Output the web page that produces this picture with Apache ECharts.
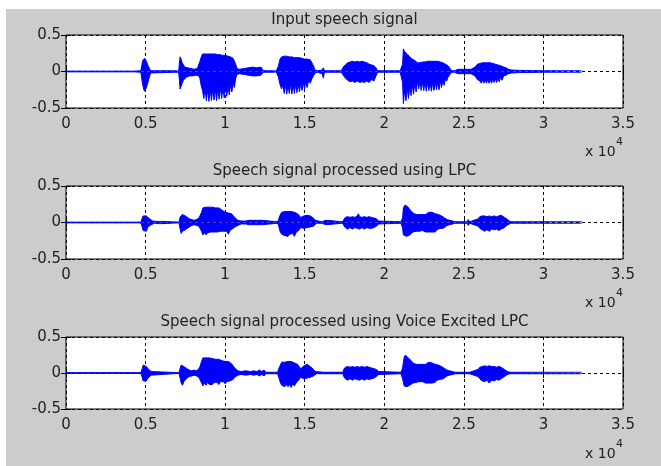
<!DOCTYPE html>
<html>
<head>
<meta charset="utf-8">
<script src="https://cdn.jsdelivr.net/npm/echarts@6/dist/echarts.min.js"></script>
<style>
html,body{margin:0;padding:0;background:#ffffff;}
#c{position:absolute;left:6px;top:9px;width:655px;height:457px;}
</style>
</head>
<body>
<div id="c"></div>
<script>
// ---- data (x in samples, envelope [sample, upper, lower]) ----
const titles = ['Input speech signal', 'Speech signal processed using LPC', 'Speech signal processed using Voice Excited LPC'];
const xTickLabels = ['0', '0.5', '1', '1.5', '2', '2.5', '3', '3.5'];
const xTickStep = 5000;
const yTicks = [-0.5, 0, 0.5];
const xExponent = '4';

const inputEnv = [
[0,0.005,-0.005],[4100,0.005,-0.005],[4180,0.03,-0.025],[4260,0.005,-0.005],[4700,0.01,-0.01],
[4760,0.08,-0.10],[4820,0.15,-0.18],[4880,0.17,-0.24],[4940,0.18,-0.27],[5000,0.16,-0.26],[5060,0.14,-0.22],[5120,0.10,-0.20],[5180,0.07,-0.12],[5250,0.04,-0.07],[5320,0.01,-0.02],
[5400,0.005,-0.005],[6900,0.01,-0.01],[7000,0.03,-0.03],[7080,0.005,-0.01],
[7120,0.10,-0.10],[7170,0.20,-0.24],[7230,0.17,-0.22],[7300,0.12,-0.16],[7380,0.09,-0.12],[7460,0.06,-0.10],[7550,0.08,-0.08],[7650,0.05,-0.07],[7750,0.07,-0.06],[7850,0.04,-0.05],[7950,0.05,-0.06],[8050,0.03,-0.04],[8150,0.05,-0.05],[8250,0.04,-0.04],[8350,0.06,-0.06],
[8420,0.14,-0.10],[8500,0.20,-0.20],[8580,0.24,-0.26],[8660,0.23,-0.37],[8740,0.24,-0.24],[8820,0.25,-0.40],[8900,0.24,-0.25],[8980,0.23,-0.41],[9060,0.24,-0.24],[9140,0.25,-0.40],[9220,0.24,-0.24],[9300,0.23,-0.39],[9380,0.24,-0.23],[9460,0.25,-0.40],[9540,0.23,-0.23],[9620,0.24,-0.38],[9700,0.23,-0.22],[9780,0.24,-0.37],[9860,0.22,-0.22],[9940,0.23,-0.36],[10020,0.22,-0.21],[10100,0.21,-0.34],[10180,0.21,-0.20],[10260,0.20,-0.32],[10340,0.20,-0.18],[10420,0.21,-0.28],[10500,0.18,-0.16],[10580,0.16,-0.22],[10660,0.10,-0.10],[10740,0.04,-0.04],
[10900,0.03,-0.03],[11200,0.04,-0.04],[11450,0.05,-0.05],[11700,0.06,-0.06],[12000,0.05,-0.06],[12250,0.06,-0.05],[12400,0.01,-0.01],[13000,0.01,-0.01],[13100,0.02,-0.02],[13200,0.005,-0.005],
[13340,0.07,-0.07],[13450,0.17,-0.18],[13550,0.20,-0.24],[13630,0.21,-0.18],[13710,0.21,-0.30],[13790,0.20,-0.18],[13870,0.21,-0.31],[13950,0.20,-0.18],[14030,0.20,-0.30],[14110,0.19,-0.17],[14190,0.20,-0.31],[14270,0.19,-0.17],[14350,0.19,-0.30],[14430,0.19,-0.17],[14510,0.19,-0.29],[14590,0.18,-0.16],[14670,0.19,-0.28],[14750,0.18,-0.16],[14830,0.18,-0.26],[14910,0.17,-0.15],[14990,0.17,-0.24],[15070,0.16,-0.13],[15150,0.17,-0.22],[15250,0.15,-0.12],[15350,0.16,-0.16],[15450,0.14,-0.10],[15550,0.08,-0.06],[15650,0.02,-0.02],
[15800,0.01,-0.01],[16100,0.02,-0.03],[16170,0.05,-0.09],[16240,0.01,-0.01],[17300,0.01,-0.01],
[17420,0.06,-0.05],[17550,0.09,-0.09],[17700,0.12,-0.12],[17850,0.13,-0.14],[18000,0.14,-0.13],[18150,0.13,-0.15],[18300,0.14,-0.13],[18450,0.13,-0.15],[18600,0.14,-0.14],[18750,0.13,-0.15],[18900,0.12,-0.13],[19050,0.10,-0.15],[19200,0.09,-0.11],[19350,0.08,-0.13],[19480,0.05,-0.06],[19580,0.01,-0.01],
[21000,0.01,-0.01],
[21150,0.10,-0.15],[21200,0.31,-0.44],[21280,0.27,-0.25],[21360,0.28,-0.40],[21440,0.24,-0.22],[21520,0.24,-0.37],[21600,0.20,-0.20],[21680,0.21,-0.33],[21760,0.17,-0.18],[21840,0.18,-0.31],[21920,0.15,-0.15],[22000,0.14,-0.28],[22080,0.12,-0.13],[22160,0.13,-0.24],[22240,0.12,-0.13],[22320,0.13,-0.26],[22400,0.13,-0.14],[22480,0.14,-0.26],[22560,0.13,-0.14],[22640,0.14,-0.27],[22720,0.14,-0.15],[22800,0.14,-0.26],[22880,0.14,-0.15],[22960,0.15,-0.27],[23040,0.14,-0.15],[23120,0.15,-0.26],[23200,0.14,-0.14],[23280,0.14,-0.25],[23360,0.14,-0.14],[23440,0.14,-0.25],[23520,0.13,-0.13],[23600,0.12,-0.22],[23680,0.12,-0.12],[23760,0.11,-0.19],[23840,0.10,-0.10],[23920,0.09,-0.13],[24000,0.08,-0.08],[24100,0.05,-0.06],[24230,0.01,-0.01],
[24400,0.01,-0.01],[24650,0.03,-0.03],[25000,0.03,-0.03],[25450,0.03,-0.03],[25550,0.01,-0.01],
[25700,0.06,-0.06],[25850,0.10,-0.11],[26000,0.11,-0.13],[26100,0.12,-0.16],[26180,0.12,-0.11],[26260,0.12,-0.16],[26340,0.12,-0.11],[26420,0.12,-0.16],[26500,0.12,-0.11],[26580,0.12,-0.16],[26660,0.12,-0.11],[26740,0.11,-0.16],[26820,0.11,-0.10],[26900,0.11,-0.15],[26980,0.10,-0.10],[27060,0.10,-0.15],[27140,0.09,-0.09],[27220,0.09,-0.14],[27300,0.08,-0.08],[27400,0.07,-0.12],[27500,0.06,-0.06],[27650,0.05,-0.05],[27800,0.03,-0.03],[28000,0.02,-0.02],
[28500,0.015,-0.015],[30000,0.01,-0.01],[32400,0.01,-0.01]
];

const lpcEnv = [
[0,0.005,-0.005],[4700,0.005,-0.005],
[4790,0.06,-0.06],[4850,0.09,-0.11],[4950,0.10,-0.10],[5050,0.09,-0.12],[5150,0.07,-0.06],[5250,0.05,-0.07],[5350,0.03,-0.03],[5450,0.02,-0.02],[5550,0.01,-0.01],[5700,0.015,-0.015],[6100,0.015,-0.015],[6200,0.005,-0.005],
[7100,0.005,-0.005],
[7180,0.08,-0.10],[7240,0.10,-0.15],[7320,0.11,-0.12],[7400,0.10,-0.14],[7500,0.09,-0.10],[7600,0.07,-0.08],[7750,0.05,-0.06],[7900,0.04,-0.04],[8050,0.03,-0.03],[8200,0.04,-0.04],[8350,0.06,-0.05],
[8420,0.08,-0.07],[8520,0.14,-0.12],[8600,0.20,-0.17],[8700,0.19,-0.14],[8800,0.21,-0.17],[8900,0.20,-0.14],[9000,0.21,-0.16],[9100,0.20,-0.13],[9200,0.21,-0.15],[9300,0.19,-0.13],[9400,0.20,-0.15],[9500,0.19,-0.13],[9600,0.20,-0.14],[9700,0.19,-0.12],[9800,0.17,-0.14],[9900,0.15,-0.12],[10000,0.14,-0.13],[10100,0.14,-0.12],[10200,0.13,-0.16],[10300,0.14,-0.11],[10400,0.12,-0.12],[10500,0.10,-0.08],[10600,0.07,-0.07],[10700,0.05,-0.05],[10800,0.03,-0.03],
[11000,0.02,-0.02],[11300,0.02,-0.02],[11500,0.03,-0.03],[12000,0.03,-0.03],[12300,0.03,-0.03],[12400,0.01,-0.01],[13300,0.01,-0.01],
[13350,0.04,-0.04],[13450,0.10,-0.12],[13550,0.14,-0.16],[13650,0.15,-0.15],[13750,0.15,-0.18],[13850,0.16,-0.16],[13950,0.15,-0.19],[14050,0.15,-0.16],[14150,0.15,-0.18],[14250,0.14,-0.15],[14350,0.14,-0.19],[14450,0.13,-0.14],[14550,0.12,-0.15],[14650,0.10,-0.10],[14750,0.07,-0.07],[14850,0.06,-0.06],[14950,0.09,-0.08],[15050,0.11,-0.09],[15150,0.10,-0.07],[15250,0.11,-0.08],[15350,0.09,-0.06],[15450,0.08,-0.07],[15550,0.06,-0.05],[15650,0.03,-0.03],[15750,0.01,-0.01],
[16050,0.01,-0.01],[16150,0.03,-0.03],[16350,0.03,-0.03],[16450,0.01,-0.01],[17400,0.01,-0.01],
[17450,0.04,-0.04],[17550,0.07,-0.07],[17700,0.08,-0.09],[17850,0.07,-0.07],[18000,0.08,-0.09],[18150,0.07,-0.07],[18300,0.09,-0.08],[18370,0.12,-0.07],[18450,0.08,-0.09],[18600,0.07,-0.07],[18750,0.08,-0.09],[18900,0.07,-0.07],[19050,0.08,-0.08],[19200,0.07,-0.08],[19350,0.06,-0.07],[19500,0.05,-0.05],[19650,0.02,-0.02],[19750,0.01,-0.01],
[21050,0.01,-0.01],
[21150,0.06,-0.08],[21200,0.20,-0.17],[21300,0.24,-0.19],[21400,0.23,-0.19],[21500,0.21,-0.18],[21600,0.18,-0.17],[21700,0.17,-0.15],[21800,0.13,-0.13],[21900,0.12,-0.14],[22000,0.11,-0.12],[22100,0.12,-0.13],[22200,0.11,-0.12],[22300,0.12,-0.13],[22400,0.11,-0.11],[22500,0.12,-0.12],[22600,0.11,-0.13],[22700,0.13,-0.12],[22800,0.14,-0.13],[22900,0.13,-0.12],[23000,0.14,-0.13],[23100,0.13,-0.12],[23200,0.12,-0.13],[23300,0.10,-0.10],[23400,0.11,-0.11],[23500,0.10,-0.08],[23600,0.09,-0.09],[23700,0.08,-0.08],[23800,0.06,-0.06],[23950,0.04,-0.04],[24100,0.03,-0.03],[24300,0.02,-0.02],[24450,0.01,-0.01],
[25200,0.01,-0.01],[25280,0.04,-0.04],[25360,0.01,-0.01],
[25900,0.05,-0.05],[26000,0.08,-0.08],[26150,0.09,-0.10],[26300,0.09,-0.12],[26450,0.08,-0.10],[26600,0.09,-0.12],[26750,0.08,-0.09],[26900,0.09,-0.10],[27050,0.08,-0.09],[27200,0.09,-0.11],[27350,0.10,-0.09],[27460,0.12,-0.11],[27550,0.07,-0.07],[27700,0.05,-0.04],[27850,0.02,-0.02],[28000,0.01,-0.01],
[32400,0.01,-0.01]
];

const velpEnv = [
[0,0.005,-0.005],[4700,0.005,-0.005],
[4790,0.06,-0.06],[4850,0.11,-0.11],[4950,0.10,-0.09],[5050,0.09,-0.11],[5150,0.06,-0.07],[5250,0.05,-0.05],[5350,0.02,-0.03],[5450,0.01,-0.01],
[7100,0.005,-0.005],
[7180,0.07,-0.08],[7240,0.11,-0.14],[7320,0.10,-0.17],[7400,0.09,-0.12],[7500,0.08,-0.10],[7600,0.06,-0.07],[7750,0.04,-0.05],[7900,0.03,-0.04],[8050,0.04,-0.03],[8200,0.03,-0.04],[8350,0.06,-0.06],
[8420,0.09,-0.08],[8520,0.16,-0.14],[8600,0.21,-0.18],[8700,0.19,-0.14],[8800,0.21,-0.17],[8900,0.20,-0.13],[9000,0.21,-0.16],[9100,0.20,-0.14],[9200,0.20,-0.16],[9300,0.21,-0.13],[9400,0.19,-0.15],[9500,0.20,-0.13],[9600,0.19,-0.16],[9700,0.18,-0.12],[9800,0.17,-0.14],[9900,0.16,-0.12],[10000,0.16,-0.15],[10100,0.15,-0.12],[10200,0.16,-0.14],[10300,0.14,-0.11],[10400,0.13,-0.12],[10500,0.10,-0.09],[10600,0.07,-0.06],[10700,0.05,-0.05],[10800,0.03,-0.03],
[11000,0.02,-0.02],[11300,0.03,-0.03],[11600,0.02,-0.02],[11800,0.03,-0.03],[12000,0.02,-0.02],[12150,0.04,-0.04],[12300,0.02,-0.02],[12450,0.04,-0.04],[12550,0.01,-0.01],[13300,0.01,-0.01],
[13350,0.05,-0.05],[13450,0.10,-0.12],[13550,0.15,-0.17],[13650,0.16,-0.15],[13750,0.15,-0.19],[13850,0.17,-0.16],[13950,0.16,-0.19],[14050,0.15,-0.16],[14150,0.16,-0.20],[14250,0.14,-0.15],[14350,0.14,-0.18],[14450,0.13,-0.14],[14550,0.12,-0.15],[14650,0.09,-0.09],[14750,0.06,-0.06],[14850,0.07,-0.07],[14950,0.10,-0.08],[15050,0.11,-0.09],[15150,0.12,-0.07],[15250,0.10,-0.08],[15350,0.09,-0.06],[15450,0.08,-0.07],[15550,0.05,-0.04],[15650,0.02,-0.02],[15750,0.01,-0.01],
[16200,0.01,-0.01],[16300,0.03,-0.03],[16400,0.01,-0.01],[17400,0.01,-0.01],
[17450,0.05,-0.05],[17550,0.08,-0.08],[17700,0.09,-0.10],[17850,0.08,-0.08],[18000,0.09,-0.10],[18150,0.08,-0.08],[18300,0.09,-0.09],[18450,0.08,-0.10],[18600,0.09,-0.08],[18750,0.08,-0.10],[18900,0.09,-0.08],[19050,0.08,-0.09],[19200,0.07,-0.08],[19350,0.06,-0.07],[19500,0.05,-0.05],[19650,0.02,-0.02],[19750,0.01,-0.01],
[21050,0.01,-0.01],
[21150,0.07,-0.08],[21250,0.22,-0.18],[21330,0.25,-0.20],[21420,0.23,-0.19],[21500,0.21,-0.18],[21600,0.19,-0.17],[21700,0.17,-0.15],[21800,0.14,-0.14],[21900,0.13,-0.15],[22000,0.12,-0.13],[22100,0.13,-0.14],[22200,0.12,-0.12],[22300,0.13,-0.14],[22400,0.12,-0.12],[22500,0.13,-0.13],[22600,0.12,-0.14],[22700,0.14,-0.12],[22800,0.15,-0.14],[22900,0.13,-0.13],[23000,0.14,-0.14],[23100,0.13,-0.12],[23200,0.12,-0.13],[23300,0.11,-0.10],[23400,0.11,-0.12],[23500,0.10,-0.09],[23600,0.09,-0.09],[23700,0.08,-0.08],[23800,0.06,-0.06],[23950,0.04,-0.04],[24100,0.03,-0.03],[24300,0.02,-0.02],[24450,0.01,-0.01],
[24900,0.01,-0.01],[24980,0.03,-0.03],[25060,0.01,-0.01],[25200,0.01,-0.01],[25280,0.03,-0.03],[25360,0.01,-0.01],
[25900,0.05,-0.05],[26000,0.08,-0.08],[26150,0.09,-0.11],[26300,0.10,-0.12],[26450,0.09,-0.10],[26600,0.10,-0.14],[26750,0.09,-0.10],[26900,0.09,-0.11],[27050,0.08,-0.09],[27200,0.09,-0.10],[27350,0.08,-0.08],[27460,0.07,-0.07],[27600,0.04,-0.04],[27750,0.02,-0.02],[27900,0.01,-0.01],
[32400,0.01,-0.01]
];

const signals = [inputEnv, lpcEnv, velpEnv];

// ---- layout ----
const BLUE = '#0000ff';
const TXT = '#222222';
const FONT = 'DejaVu Sans';
const gridTops = [26, 177, 328];
const gridH = [73, 73, 72];
const GL = 60, GW = 557;

const grids = [], xAxes = [], yAxes = [], series = [], graphics = [];
const dash = { color: '#000', width: 1, type: [3, 3] };

for (let i = 0; i < 3; i++) {
  grids.push({ left: GL, top: gridTops[i], width: GW, height: gridH[i], show: true,
    backgroundColor: '#ffffff', borderColor: '#000000', borderWidth: 1 });
}
for (let i = 0; i < 3; i++) {
  xAxes.push({ gridIndex: i, type: 'value', position: 'bottom', min: 0, max: xTickStep * (xTickLabels.length - 1), interval: xTickStep,
    axisLine: { show: false },
    axisTick: { show: true, inside: true, length: 5, lineStyle: { color: '#000' } },
    axisLabel: { show: true, margin: 9, fontSize: 15, fontFamily: FONT, color: TXT,
      formatter: v => xTickLabels[Math.round(v / xTickStep)] },
    splitLine: { show: true, lineStyle: dash } });
}
for (let i = 0; i < 3; i++) {
  xAxes.push({ gridIndex: i, type: 'value', position: 'top', min: 0, max: xTickStep * (xTickLabels.length - 1), interval: xTickStep,
    axisLine: { show: false },
    axisTick: { show: true, inside: true, length: 5, lineStyle: { color: '#000' } },
    axisLabel: { show: false }, splitLine: { show: false } });
}
for (let i = 0; i < 3; i++) {
  yAxes.push({ gridIndex: i, type: 'value', position: 'left', min: yTicks[0], max: yTicks[yTicks.length - 1], interval: yTicks[1] - yTicks[0],
    axisLine: { show: false },
    axisTick: { show: true, inside: true, length: 5, lineStyle: { color: '#000' } },
    axisLabel: { show: true, margin: 5, fontSize: 15, fontFamily: FONT, color: TXT, padding: [3, 0, 0, 0] },
    splitLine: { show: true, lineStyle: dash } });
}
for (let i = 0; i < 3; i++) {
  yAxes.push({ gridIndex: i, type: 'value', position: 'right', min: yTicks[0], max: yTicks[yTicks.length - 1], interval: yTicks[1] - yTicks[0],
    axisLine: { show: false },
    axisTick: { show: true, inside: true, length: 5, lineStyle: { color: '#000' } },
    axisLabel: { show: false }, splitLine: { show: false } });
}

signals.forEach((env, i) => {
  const up = env.map(r => [r[0], r[1]]);
  const lo = env.map(r => [r[0], r[2]]);
  [up, lo].forEach(d => {
    series.push({ type: 'line', xAxisIndex: i, yAxisIndex: i, data: d, symbol: 'none', showSymbol: false,
      silent: true, animation: false, clip: true, z: 3,
      lineStyle: { color: BLUE, width: 1 },
      areaStyle: { color: BLUE, opacity: 1, origin: 'auto' } });
  });
});

const cx = GL + GW / 2;
for (let i = 0; i < 3; i++) {
  graphics.push({ type: 'text', x: cx, y: gridTops[i] - 15, z: 10,
    style: { text: titles[i], font: '15px "' + FONT + '"', fill: TXT, align: 'center', verticalAlign: 'middle' } });
  const by = gridTops[i] + 117;
  graphics.push({ type: 'text', x: 579, y: by, z: 10,
    style: { text: 'x 10', font: '14px "' + FONT + '"', fill: TXT, align: 'left', verticalAlign: 'middle' } });
  graphics.push({ type: 'text', x: 610, y: by - 9.5, z: 10,
    style: { text: xExponent, font: '11px "' + FONT + '"', fill: TXT, align: 'left', verticalAlign: 'middle' } });
}

const chart = echarts.init(document.getElementById('c'), null, { renderer: 'canvas' });
chart.setOption({
  backgroundColor: '#cccccc',
  animation: false,
  grid: grids, xAxis: xAxes, yAxis: yAxes, series: series, graphic: graphics
});
</script>
</body>
</html>
